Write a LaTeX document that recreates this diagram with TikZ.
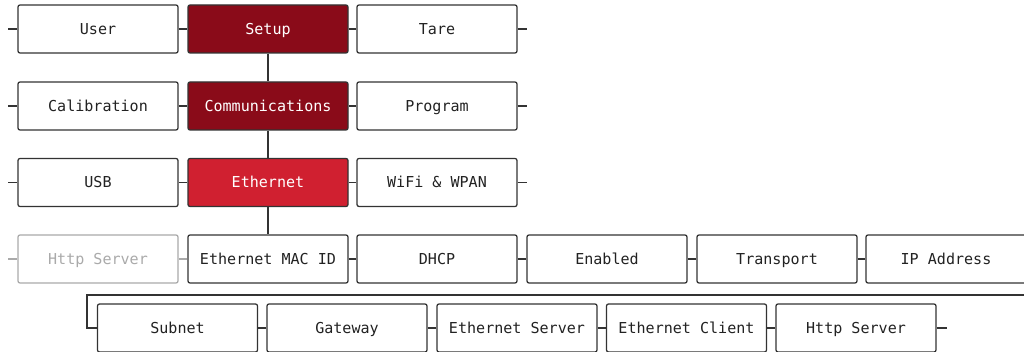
\documentclass[tikz,border=0pt]{standalone}
\usepackage{fontspec}
\setmonofont{DejaVu Sans Mono}
\definecolor{darkred}{HTML}{8A0B19}
\definecolor{brightred}{HTML}{D02030}
\definecolor{edge}{HTML}{333333}
\definecolor{txt}{HTML}{222222}
\definecolor{dim}{HTML}{AAAAAA}
\tikzset{
  item/.style={draw=edge, line width=0.95pt, rounded corners=1.5pt, fill=white,
    minimum width=120pt, minimum height=36pt, inner sep=0pt,
    text height=10.5pt, text depth=2.3pt,
    font=\ttfamily\fontsize{11.3pt}{13.5pt}\selectfont, text=txt},
  sel/.style={item, fill=darkred, text=white},
  cur/.style={item, fill=brightred, text=white},
  off/.style={item, draw=dim, text=dim},
  link/.style={draw=edge, line width=0.95pt},
  offlink/.style={draw=dim, line width=0.95pt}
}
\begin{document}
\begin{tikzpicture}[x=0.75pt,y=-0.75pt]
\useasboundingbox (0,0) rectangle (1024,352);
\clip (0,0) rectangle (1024,352);
% columns
\def\ca{98}\def\cb{268}\def\cc{437}\def\cd{607}\def\ce{777}\def\cf{946}
% row 1
\node[item] (user) at (\ca,29) {User};
\node[sel] (setup) at (\cb,29) {Setup};
\node[item] (tare) at (\cc,29) {Tare};
% row 2
\node[item] (cal) at (\ca,106) {Calibration};
\node[sel] (comm) at (\cb,106) {Communications};
\node[item] (prog) at (\cc,106) {Program};
% row 3
\node[item] (usb) at (\ca,182.5) {USB};
\node[cur] (eth) at (\cb,182.5) {Ethernet};
\node[item] (wifi) at (\cc,182.5) {WiFi \& WPAN};
% row 4
\node[off] (http1) at (\ca,259) {Http Server};
\node[item] (mac) at (\cb,259) {Ethernet MAC ID};
\node[item] (dhcp) at (\cc,259) {DHCP};
\node[item] (en) at (\cd,259) {Enabled};
\node[item] (trans) at (\ce,259) {Transport};
\node[item] (ip) at (\cf,259) {IP Address};
% row 5
\node[item] (sub) at (177.5,328) {Subnet};
\node[item] (gw) at (347,328) {Gateway};
\node[item] (esrv) at (517,328) {Ethernet Server};
\node[item] (ecli) at (686.5,328) {Ethernet Client};
\node[item] (http2) at (856,328) {Http Server};
% stub coordinates
\coordinate (l1) at (8,29);
\coordinate (l2) at (8,106);
\coordinate (l3) at (8,182.5);
\coordinate (l4) at (8,259);
\coordinate (r1) at (527,29);
\coordinate (r2) at (527,106);
\coordinate (r3) at (527,182.5);
\coordinate (r5) at (947,328);
\coordinate (w1) at (1040,259);
\coordinate (w2) at (1040,295);
\coordinate (w3) at (87,295);
\coordinate (w4) at (87,328);
% horizontal links
\draw[link] (l1) -- (user.west);
\draw[link] (user.east) -- (setup.west);
\draw[link] (setup.east) -- (tare.west);
\draw[link] (tare.east) -- (r1);
\draw[link] (l2) -- (cal.west);
\draw[link] (cal.east) -- (comm.west);
\draw[link] (comm.east) -- (prog.west);
\draw[link] (prog.east) -- (r2);
\draw[link] (l3) -- (usb.west);
\draw[link] (usb.east) -- (eth.west);
\draw[link] (eth.east) -- (wifi.west);
\draw[link] (wifi.east) -- (r3);
\draw[offlink] (l4) -- (http1.west);
\draw[offlink] (http1.east) -- (mac.west);
\draw[link] (mac.east) -- (dhcp.west);
\draw[link] (dhcp.east) -- (en.west);
\draw[link] (en.east) -- (trans.west);
\draw[link] (trans.east) -- (ip.west);
\draw[link] (ip.east) -- (w1) -- (w2) -- (w3) -- (w4) -- (sub.west);
\draw[link] (sub.east) -- (gw.west);
\draw[link] (gw.east) -- (esrv.west);
\draw[link] (esrv.east) -- (ecli.west);
\draw[link] (ecli.east) -- (http2.west);
\draw[link] (http2.east) -- (r5);
% vertical links
\draw[link] (setup.south) -- (comm.north);
\draw[link] (comm.south) -- (eth.north);
\draw[link] (eth.south) -- (mac.north);
\end{tikzpicture}
\end{document}
